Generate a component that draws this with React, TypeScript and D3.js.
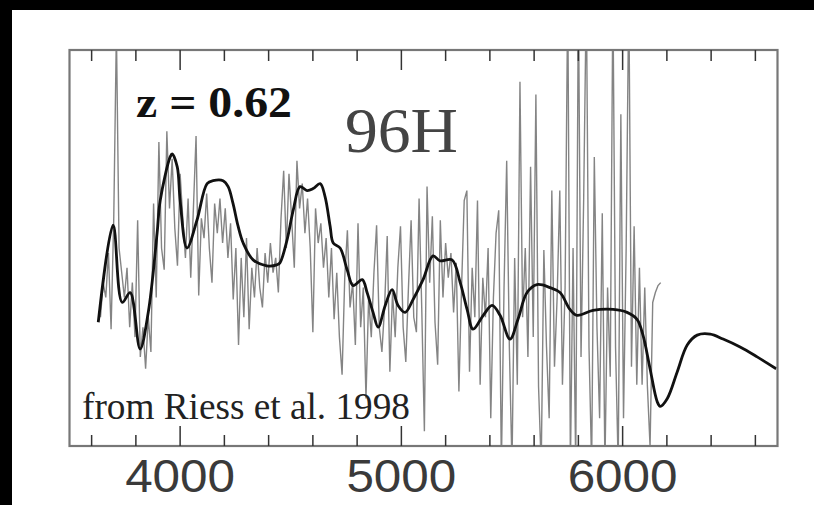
import React, { useRef, useEffect } from 'react';
import * as d3 from 'd3';

// wavelength (Angstrom) / relative flux of the smoothed template (thick black)
const templateWave = [
	3630, 3697, 3738, 3774, 3819, 3856, 3896, 3910, 3955, 3964, 3987, 4000, 4031,
	4076, 4122, 4149, 4194, 4217, 4239, 4262, 4285, 4330, 4392, 4437, 4451, 4483,
	4511, 4542, 4574, 4601, 4633, 4655, 4678, 4692, 4723, 4755, 4782, 4823, 4845,
	4872, 4895, 4927, 4958, 4985, 5017, 5053, 5098, 5143, 5175, 5229, 5266, 5297,
	5324, 5370, 5410, 5446, 5491, 5527, 5568, 5613, 5672, 5717, 5762, 5794, 5866,
	5957, 6020, 6065, 6092, 6124, 6156, 6170, 6202, 6247, 6292, 6337, 6396, 6454,
	6531, 6608, 6694,
];
const templateFlux = [
	125, 223, 145, 155, 98, 135, 215, 248, 292, 295, 282, 248, 200, 228, 265, 268,
	268, 262, 245, 222, 205, 188, 182, 183, 185, 208, 238, 262, 258, 260, 265, 252,
	222, 205, 200, 178, 162, 168, 155, 135, 120, 142, 158, 142, 135, 148, 168, 192,
	187, 188, 165, 138, 118, 132, 142, 132, 108, 128, 155, 163, 160, 155, 138, 132,
	137, 138, 135, 128, 112, 78, 45, 40, 48, 75, 102, 112, 113, 108, 100, 90, 78,
];

// observed spectrum (thin grey), sampled every 12 A from 3640 A
const obsStart = 3640;
const obsStep = 12;
const obsFlux = [
	130, 165, 150, 195, 118, 230, 420, 200, 175, 150, 180, 120, 165, 110, 228, 90,
	120, 78, 130, 95, 245, 150, 307, 200, 178, 318, 240, 290, 220, 182, 275, 230,
	190, 250, 170, 240, 313, 152, 230, 210, 255, 200, 165, 245, 215, 250, 205, 240,
	190, 225, 148, 200, 102, 190, 130, 210, 118, 180, 150, 200, 160, 140, 195, 165,
	205, 175, 190, 155, 230, 278, 200, 275, 230, 180, 288, 240, 265, 215, 250, 200,
	115, 240, 205, 225, 180, 210, 150, 200, 128, 175, 110, 72, 170, 218, 140, 165,
	102, 225, 120, 160, 48, 150, 110, 175, 223, 120, 95, 140, 212, 75, 155, 110,
	180, 222, 120, 85, 160, 228, 130, 115, 250, 140, 15, 262, 165, 232, 125, 82,
	228, 150, 205, 170, 195, 135, 185, 55, 160, 248, 258, 75, 180, 130, 248, 62,
	170, 130, 200, 28, 150, 215, 238, -20, 160, 288, 100, -20, 190, 62, 368, 130,
	200, 90, 282, 110, 355, 60, -20, 198, 100, 28, 258, 80, 150, 258, 62, 160,
	460, -20, 200, -20, 460, 90, 250, 460, 100, -20, 292, 120, 28, 235, -20, 160,
	70, 460, 100, -20, 335, 28, 200, 460, 80, 222, 62, 180, 62, 160, 60, 0,
	145, 155, 162, 165,
];

const majorTicks = [4000, 5000, 6000];
const tickLabels = ['4000', '5000', '6000'];

export default function App() {
	const svgRef = useRef(null);

	useEffect(() => {
		const W = 814;
		const H = 505;
		const frame = { left: 69.5, right: 777.5, top: 50, bottom: 446 };
		const svg = d3.select(svgRef.current);
		svg.selectAll('*').remove();

		const x = d3.scaleLinear().domain([3500, 6700]).range([frame.left, frame.right]);
		const y = d3.scaleLinear().domain([0, 400]).range([frame.bottom, frame.top]);

		svg.append('rect').attr('width', W).attr('height', H).attr('fill', '#000');
		svg.append('rect').attr('x', 12).attr('y', 10).attr('width', W - 12).attr('height', H - 10).attr('fill', '#fff');

		svg.append('clipPath').attr('id', 'plotclip')
			.append('rect')
			.attr('x', frame.left).attr('y', frame.top)
			.attr('width', frame.right - frame.left).attr('height', frame.bottom - frame.top);

		const obs = obsFlux.map((f, i) => ({ w: obsStart + i * obsStep, f }));
		const tpl = templateWave.map((w, i) => ({ w, f: templateFlux[i] }));

		const plot = svg.append('g').attr('clip-path', 'url(#plotclip)');

		plot.append('path')
			.datum(obs)
			.attr('fill', 'none')
			.attr('stroke', '#6e6e6e')
			.attr('stroke-width', 1.4)
			.attr('stroke-opacity', 0.85)
			.attr('d', d3.line().x((d) => x(d.w)).y((d) => y(d.f)));

		plot.append('path')
			.datum(tpl)
			.attr('fill', 'none')
			.attr('stroke', '#111')
			.attr('stroke-width', 2.8)
			.attr('stroke-linejoin', 'round')
			.attr('d', d3.line().x((d) => x(d.w)).y((d) => y(d.f)).curve(d3.curveCatmullRom));

		// frame
		svg.append('rect')
			.attr('x', frame.left).attr('y', frame.top)
			.attr('width', frame.right - frame.left).attr('height', frame.bottom - frame.top)
			.attr('fill', 'none').attr('stroke', '#777').attr('stroke-width', 2.2);

		// ticks, pointing inward on top and bottom
		const ticks = x.ticks(16);
		const len = (t) => (majorTicks.includes(t) ? 20 : 11);
		svg.append('g').selectAll('line.top')
			.data(ticks).join('line')
			.attr('x1', (t) => x(t)).attr('x2', (t) => x(t))
			.attr('y1', frame.top).attr('y2', (t) => frame.top + len(t))
			.attr('stroke', '#333').attr('stroke-width', 1.5);
		svg.append('g').selectAll('line.bot')
			.data(ticks).join('line')
			.attr('x1', (t) => x(t)).attr('x2', (t) => x(t))
			.attr('y1', frame.bottom).attr('y2', (t) => frame.bottom - len(t))
			.attr('stroke', '#333').attr('stroke-width', 1.5);

		svg.append('g').selectAll('text')
			.data(majorTicks).join('text')
			.attr('x', (t) => x(t)).attr('y', 492)
			.attr('text-anchor', 'middle')
			.attr('font-family', 'Liberation Sans, Arial, sans-serif')
			.attr('font-size', 46)
			.attr('fill', '#3a3a3a')
			.attr('textLength', 110)
			.attr('lengthAdjust', 'spacingAndGlyphs')
			.text((t, i) => tickLabels[i]);

		svg.append('text')
			.attr('x', 136).attr('y', 117)
			.attr('font-family', 'Liberation Serif, Times New Roman, serif')
			.attr('font-weight', 'bold')
			.attr('font-size', 44)
			.attr('fill', '#111')
			.attr('textLength', 156)
			.attr('lengthAdjust', 'spacingAndGlyphs')
			.text('z = 0.62');

		svg.append('text')
			.attr('x', 345).attr('y', 152)
			.attr('font-family', 'Liberation Serif, Times New Roman, serif')
			.attr('font-size', 64)
			.attr('fill', '#444')
			.attr('textLength', 113)
			.attr('lengthAdjust', 'spacingAndGlyphs')
			.text('96H');

		svg.append('text')
			.attr('x', 82).attr('y', 419)
			.attr('font-family', 'Liberation Serif, Times New Roman, serif')
			.attr('font-size', 37)
			.attr('fill', '#222')
			.attr('textLength', 328)
			.attr('lengthAdjust', 'spacingAndGlyphs')
			.text('from Riess et al. 1998');
	}, []);

	return (
		<div style={{ position: 'absolute', left: 0, top: 0 }}>
			<svg ref={svgRef} width={814} height={505} style={{ display: 'block' }} />
		</div>
	);
}
